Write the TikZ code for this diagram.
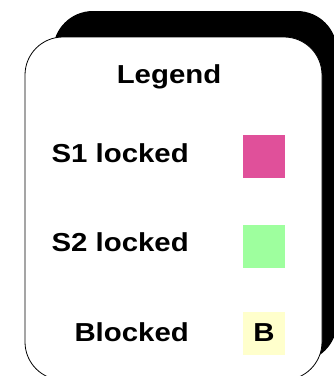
\documentclass[tikz,border=0pt]{standalone}
\usepackage{fontspec}
\newfontfamily\lgfont[FakeStretch=1.13]{Liberation Sans}
\definecolor{sone}{RGB}{224,80,154}
\definecolor{stwo}{RGB}{158,255,158}
\definecolor{blk}{RGB}{255,255,204}
\tikzset{
  lbl/.style={font=\lgfont\bfseries\fontsize{26}{30}\selectfont, inner sep=0pt},
  swatch/.style={minimum width=42pt, minimum height=43pt, inner sep=0pt, draw=none},
}
\begin{document}
\begin{tikzpicture}[x=1pt,y=-1pt]
\useasboundingbox (0,0) rectangle (334,376);
\clip (0,0) rectangle (334,376);
% shadow
\fill[black, rounded corners=40pt] (53,11) rectangle (337,362);
% main box
\draw[fill=white, line width=0.8pt, rounded corners=38pt] (25,37) rectangle (322,380);
\node[lbl, anchor=base] (title) at (169,83) {Legend};
\node[lbl, anchor=base east] (s1) at (189,162) {S1 locked};
\node[lbl, anchor=base east] (s2) at (189,251) {S2 locked};
\node[lbl, anchor=base east] (bl) at (189,341) {Blocked};
\node[swatch, fill=sone] (sq1) at (264,156.5) {};
\node[swatch, fill=stwo] (sq2) at (264,246) {};
\node[swatch, fill=blk, font=\lgfont\bfseries\fontsize{26}{30}\selectfont] (sq3) at (264,333) {B};
\end{tikzpicture}
\end{document}
